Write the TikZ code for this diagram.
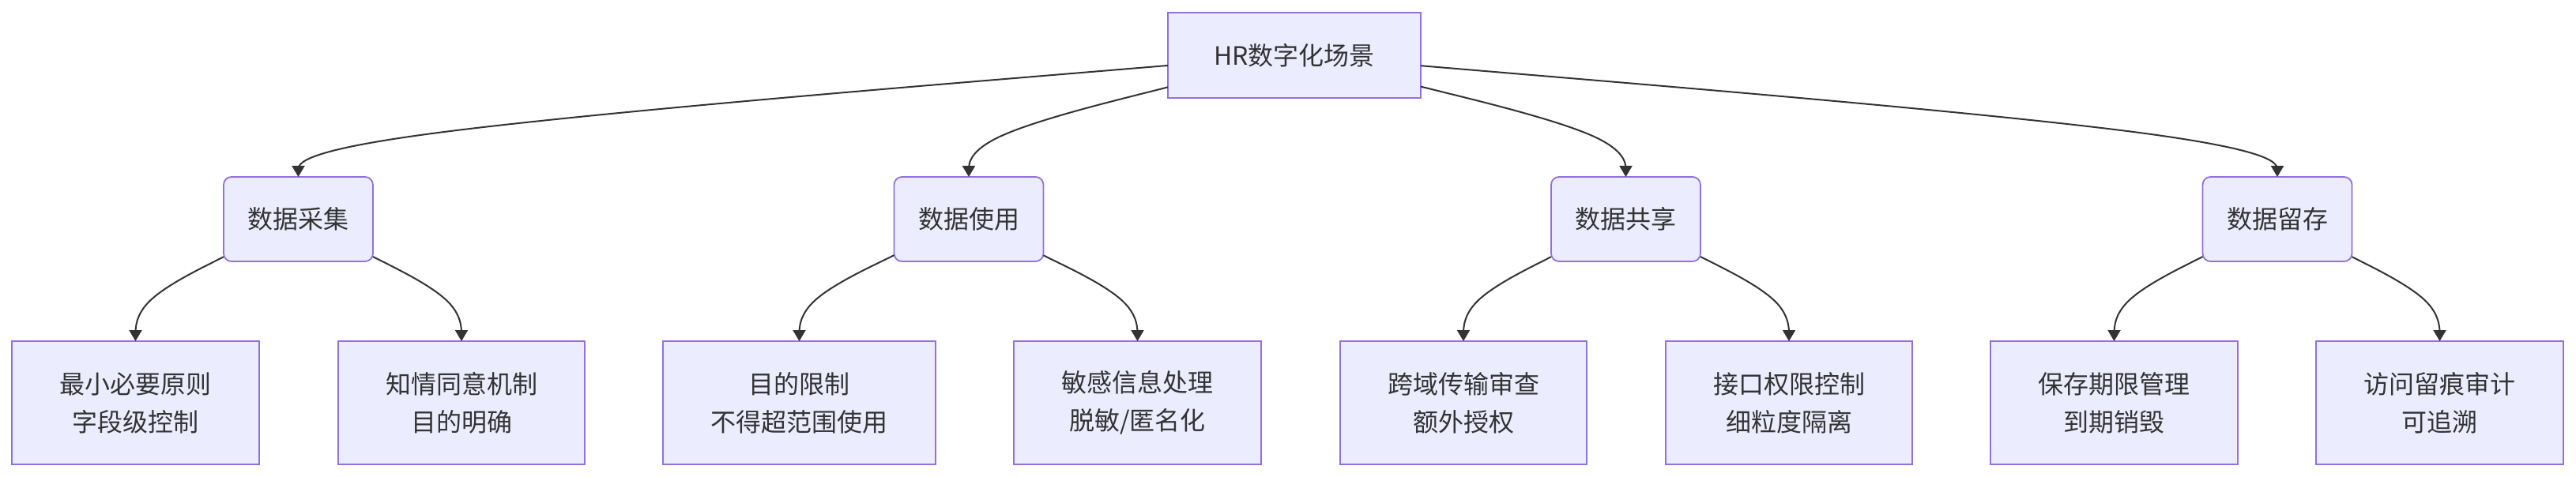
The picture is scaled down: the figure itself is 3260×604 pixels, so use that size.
\documentclass[tikz,border=0pt]{standalone}
\usepackage{fontspec}
\setmainfont{Noto Sans CJK SC}
\usetikzlibrary{arrows.meta,calc}
\definecolor{nodefill}{HTML}{ECECFF}
\definecolor{nodeline}{HTML}{9370DB}
\definecolor{edgec}{HTML}{333333}
\definecolor{textc}{HTML}{333333}
\tikzset{
  boxbase/.style={draw=nodeline, fill=nodefill, line width=1.8pt, inner sep=0pt, outer sep=0pt,
    text=textc, align=center, font=\fontsize{32pt}{48pt}\selectfont},
  rootbox/.style={boxbase, rectangle, minimum width=320pt, minimum height=108pt},
  midbox/.style={boxbase, rectangle, rounded corners=10pt, minimum width=189pt, minimum height=107pt},
  leafbox/.style={boxbase, rectangle, minimum height=156pt},
  edge/.style={draw=edgec, line width=2pt, -{Triangle[length=14pt,width=16pt]}, fill=none}
}
\newcommand\bedge[3]{%
  \coordinate (bp1) at (#2.north |- 0,#3);
  \path (#1) -- (bp1) coordinate[pos=0] (bp0);
  \coordinate (bp2) at (#2.north);
  \draw[edge] (bp0) -- ($(bp0)!0.1666667!(bp1)$)
    .. controls ($(bp0)!0.3333333!(bp1)$) and ($(bp0)!0.6666667!(bp1)$) ..
    ($0.1666667*(bp0)+0.6666667*(bp1)+0.1666667*(bp2)$)
    .. controls ($(bp1)!0.3333333!(bp2)$) and ($(bp1)!0.6666667!(bp2)$) ..
    ($(bp1)!0.8333333!(bp2)$) -- (bp2);
}
\begin{document}
\begin{tikzpicture}[x=1pt,y=-1pt]
\useasboundingbox (0,0) rectangle (3260,604);
\fill[white] (0,0) rectangle (3260,604);
\node[rootbox] (root) at (1638,70) {HR数字化场景};
\node[midbox] (m1) at (377.5,277.5) {数据采集};
\node[midbox] (m2) at (1226,277.5) {数据使用};
\node[midbox] (m3) at (2057.5,277.5) {数据共享};
\node[midbox] (m4) at (2882,277.5) {数据留存};
\node[leafbox, minimum width=313pt] (l1) at (171.5,510) {最小必要原则\\字段级控制};
\node[leafbox, minimum width=312pt] (l2) at (584,510) {知情同意机制\\目的明确};
\node[leafbox, minimum width=345pt] (l3) at (1011.5,510) {目的限制\\不得超范围使用};
\node[leafbox, minimum width=313pt] (l4) at (1439.5,510) {敏感信息处理\\脱敏/匿名化};
\node[leafbox, minimum width=312pt] (l5) at (1852,510) {跨域传输审查\\额外授权};
\node[leafbox, minimum width=312pt] (l6) at (2264,510) {接口权限控制\\细粒度隔离};
\node[leafbox, minimum width=313pt] (l7) at (2675.5,510) {保存期限管理\\到期销毁};
\node[leafbox, minimum width=313pt] (l8) at (3087.5,510) {访问留痕审计\\可追溯};
\bedge{root}{m1}{174}
\bedge{root}{m2}{174}
\bedge{root}{m3}{174}
\bedge{root}{m4}{174}
\bedge{m1}{l1}{381.5}
\bedge{m1}{l2}{381.5}
\bedge{m2}{l3}{381.5}
\bedge{m2}{l4}{381.5}
\bedge{m3}{l5}{381.5}
\bedge{m3}{l6}{381.5}
\bedge{m4}{l7}{381.5}
\bedge{m4}{l8}{381.5}
\end{tikzpicture}
\end{document}
